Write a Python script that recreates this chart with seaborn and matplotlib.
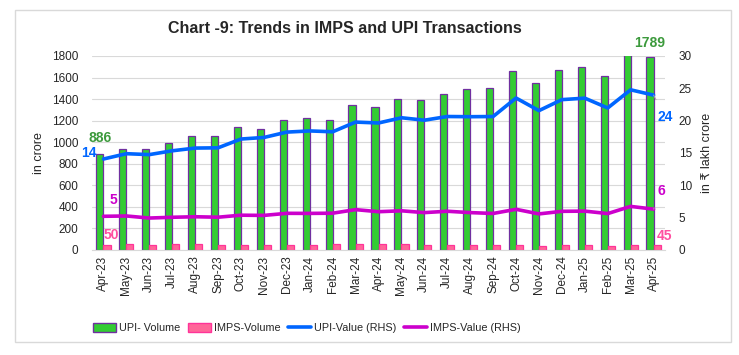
import numpy as np
import pandas as pd
import matplotlib

matplotlib.use("Agg")
import matplotlib.pyplot as plt
import seaborn as sns
from matplotlib.patches import Patch, Rectangle
from matplotlib.lines import Line2D

months = ["Apr-23", "May-23", "Jun-23", "Jul-23", "Aug-23", "Sep-23", "Oct-23", "Nov-23",
          "Dec-23", "Jan-24", "Feb-24", "Mar-24", "Apr-24", "May-24", "Jun-24", "Jul-24",
          "Aug-24", "Sep-24", "Oct-24", "Nov-24", "Dec-24", "Jan-25", "Feb-25", "Mar-25", "Apr-25"]
upi_volume = [886, 941, 934, 996, 1058, 1056, 1141, 1124, 1202, 1220, 1210, 1344, 1330,
              1404, 1389, 1444, 1496, 1504, 1658, 1548, 1673, 1699, 1611, 1830, 1789]
imps_volume = [50, 53, 50, 51, 51, 49, 50, 47, 50, 50, 58, 56, 56, 56, 50, 49, 49, 46,
               47, 41, 44, 44, 40, 45, 45]
upi_value = [14.07, 14.89, 14.75, 15.34, 15.76, 15.80, 17.16, 17.40, 18.23, 18.41, 18.28,
             19.78, 19.64, 20.45, 20.07, 20.64, 20.61, 20.64, 23.50, 21.55, 23.25, 23.48,
             21.96, 24.77, 23.95]
imps_value = [5.21, 5.26, 4.94, 5.06, 5.14, 5.07, 5.38, 5.35, 5.67, 5.66, 5.69, 6.24, 5.92,
              6.06, 5.78, 5.99, 5.78, 5.65, 6.29, 5.58, 5.98, 6.01, 5.63, 6.74, 6.32]

GREEN, PURPLE = "#33CC33", "#7030A0"
PINK, PINK_EDGE = "#FF6699", "#FF3399"
BLUE, MAGENTA = "#0066FF", "#CC00CC"

sns.set_style("white")
plt.rcParams["font.family"] = ["Liberation Sans", "DejaVu Sans"]

df = pd.DataFrame({
    "month": months * 2,
    "volume": upi_volume + imps_volume,
    "series": ["UPI- Volume"] * len(months) + ["IMPS-Volume"] * len(months),
})

fig = plt.figure(figsize=(7.39, 3.55), dpi=100)
ax = fig.add_axes([0.1245, 0.2958, 0.7754, 0.5465])

sns.barplot(data=df, x="month", y="volume", hue="series", palette=[GREEN, PINK],
            width=0.62, saturation=1, ax=ax, legend=False)
for cont, ec in zip(ax.containers, [PURPLE, PINK_EDGE]):
    for bar in cont:
        bar.set_edgecolor(ec)
        bar.set_linewidth(0.9)

ax.set_ylim(0, 1800)
ax.set_yticks(range(0, 1801, 200))
ax.set_xlim(-0.5, len(months) - 0.5)
ax.yaxis.grid(True, color="#d9d9d9", lw=0.8)
ax.set_axisbelow(True)
ax.set_xlabel("")
ax.set_ylabel("in crore", fontsize=9, labelpad=5)
for s in ["left", "right", "top"]:
    ax.spines[s].set_visible(False)
ax.spines["bottom"].set_color("#d9d9d9")
ax.tick_params(axis="y", length=0, labelsize=8.5, pad=10)
ax.tick_params(axis="x", which="major", length=0, labelsize=8.5, rotation=90, pad=4)
ax.set_xticks(np.arange(-0.5, len(months), 1), minor=True)
ax.tick_params(axis="x", which="minor", length=5, color="#d9d9d9")

ax2 = ax.twinx()
x = np.arange(len(months))
sns.lineplot(x=x, y=upi_value, color=BLUE, lw=2.6, ax=ax2)
sns.lineplot(x=x, y=imps_value, color=MAGENTA, lw=2.6, ax=ax2)
ax2.set_ylim(0, 30)
ax2.set_yticks(range(0, 31, 5))
ax2.set_xlim(-0.5, len(months) - 0.5)
for s in ax2.spines.values():
    s.set_visible(False)
ax2.tick_params(axis="y", length=0, labelsize=8.5, pad=10)
ax2.set_ylabel("in \u20b9 lakh crore", fontsize=9, labelpad=6)

# data labels
lead = dict(arrowstyle="-", color="#a6a6a6", lw=0.7, shrinkA=0, shrinkB=0)
ax.annotate(f"{upi_volume[0]}", (-0.155, upi_volume[0]), xytext=(0, 12), textcoords="offset points",
            ha="center", va="center", color="#3C9A3C", fontsize=10, fontweight="bold")
ax.annotate(f"{upi_volume[-1]}", (len(months) - 1.155, upi_volume[-1]), xytext=(0, 10),
            textcoords="offset points", ha="center", va="center", color="#3C9A3C",
            fontsize=10, fontweight="bold")
ax.annotate(f"{imps_volume[0]}", (0.155, imps_volume[0]), xytext=(3, 7), textcoords="offset points",
            ha="center", va="center", color="#FF4FA0", fontsize=10, fontweight="bold")
ax.annotate(f"{imps_volume[-1]}", (len(months) - 0.845, imps_volume[-1]), xytext=(5, 6.5),
            textcoords="offset points", ha="center", va="center", color="#FF4FA0",
            fontsize=10, fontweight="bold")
ax2.annotate(f"{round(upi_value[0])}", (0, upi_value[0]), xytext=(-5, 4.5), textcoords="offset points",
             ha="right", va="center", color=BLUE, fontsize=10, fontweight="bold")
ax2.annotate(f"{round(upi_value[-1])}", (len(months) - 1, upi_value[-1]), xytext=(8.5, -16),
             textcoords="offset points", ha="center", va="center", color=BLUE,
             fontsize=10, fontweight="bold", arrowprops=dict(lead, shrinkA=6))
ax2.annotate(f"{round(imps_value[0])}", (0, imps_value[0]), xytext=(7, 12), textcoords="offset points",
             ha="center", va="center", color=MAGENTA, fontsize=10, fontweight="bold")
ax2.annotate(f"{round(imps_value[-1])}", (len(months) - 1, imps_value[-1]), xytext=(5.5, 13),
             textcoords="offset points", ha="center", va="center", color=MAGENTA,
             fontsize=10, fontweight="bold", arrowprops=dict(lead, shrinkA=5))

fig.text(0.467, 0.92, "Chart -9: Trends in IMPS and UPI Transactions", ha="center", va="center",
         fontsize=11.5, fontweight="bold")

handles = [
    Patch(facecolor=GREEN, edgecolor=PURPLE, label="UPI- Volume"),
    Patch(facecolor=PINK, edgecolor=PINK_EDGE, label="IMPS-Volume"),
    Line2D([], [], color=BLUE, lw=2.6, label="UPI-Value (RHS)"),
    Line2D([], [], color=MAGENTA, lw=2.6, label="IMPS-Value (RHS)"),
]
fig.legend(handles=handles, loc="center", bbox_to_anchor=(0.415, 0.075), ncol=4, frameon=False,
           fontsize=7.8, handlelength=2.1, handleheight=0.8, columnspacing=0.7, handletextpad=0.3)

fig.add_artist(Rectangle((15 / 739, 1 - 342 / 355), 716 / 739, 332 / 355, transform=fig.transFigure,
                         fill=False, edgecolor="#d9d9d9", lw=1))

fig.savefig("out.png", dpi=100)
